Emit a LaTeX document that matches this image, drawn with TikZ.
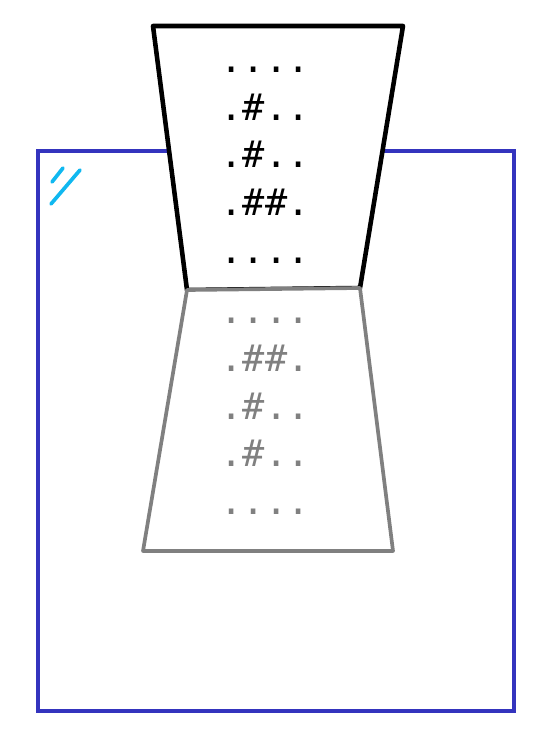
\documentclass[tikz,border=0pt]{standalone}
\usepackage{fontspec}
\setmonofont{DejaVu Sans Mono}
\usepackage{xcolor}
\usetikzlibrary{positioning}
\definecolor{frameblue}{RGB}{52,52,190}
\definecolor{markcyan}{RGB}{16,184,240}
\definecolor{backgray}{RGB}{128,128,128}
\tikzset{
    grid/.style={anchor=base, inner sep=0pt, font=\ttfamily\fontsize{21}{25}\selectfont},
    backgrid/.style={grid, text=backgray},
    frontface/.style={draw=black, line width=2.6pt, fill=white, line join=round},
    backface/.style={draw=backgray, line width=2.1pt, fill=white, line join=round}
}

\begin{document}
\begin{tikzpicture}[x=0.02cm, y=-0.02cm]
        \useasboundingbox (0,0) rectangle (556,743);
        % outer frame and pen mark
        \draw[frameblue, line width=2.1pt] (38,151) rectangle (514,711);
        \draw[markcyan, line width=2.1pt, line cap=round] (52,182) -- (63,168);
        \draw[markcyan, line width=2.1pt, line cap=round] (51,204) -- (80,170);
        % front card
        \draw[frontface] (153,26) -- (403,26) -- (360,288) -- (187,290) -- cycle;
        % back card, seen through
        \draw[backface] (187,290) -- (360,288) -- (393,551) -- (143,551) -- cycle;
        % rows of the front card
        \node[grid] (front1) at (265,73) {....};
        \node[grid] (front2) at (265,120.5) {.\#..};
        \node[grid] (front3) at (265,168) {.\#..};
        \node[grid] (front4) at (265,215.5) {.\#\#.};
        \node[grid] (front5) at (265,263) {....};
        % rows of the back card
        \node[backgrid] (back1) at (265,323) {....};
        \node[backgrid] (back2) at (265,371) {.\#\#.};
        \node[backgrid] (back3) at (265,419) {.\#..};
        \node[backgrid] (back4) at (265,466) {.\#..};
        \node[backgrid] (back5) at (265,514) {....};
    \end{tikzpicture}
\end{document}
